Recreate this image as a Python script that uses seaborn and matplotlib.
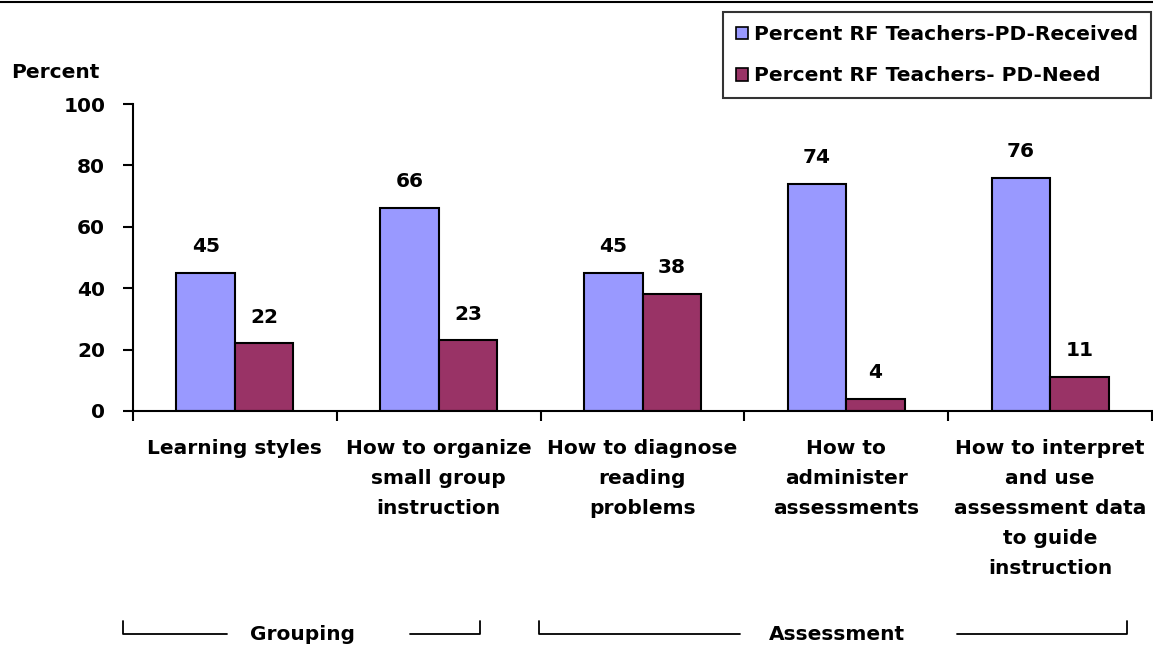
import pandas as pd
import matplotlib.pyplot as plt
import matplotlib.transforms as mtransforms
from matplotlib.patches import Patch
from matplotlib.lines import Line2D
import seaborn as sns

# data
topics = ["Learning styles",
          "How to organize\nsmall group\ninstruction",
          "How to diagnose\nreading\nproblems",
          "How to\nadminister\nassessments",
          "How to interpret\nand use\nassessment data\nto guide\ninstruction"]
received = [45, 66, 45, 74, 76]
need = [22, 23, 38, 4, 11]
series = ["Percent RF Teachers-PD-Received", "Percent RF Teachers- PD-Need"]
colors = ["#9999FF", "#993366"]
yticks = [0, 20, 40, 60, 80, 100]
groups = ["Grouping", "Assessment"]

df = pd.DataFrame({
    "Topic": topics * 2,
    "Percent": received + need,
    "Series": [series[0]] * len(topics) + [series[1]] * len(topics),
})

sns.set_style("white")
plt.rcParams['font.family'] = ['DejaVu Sans']
plt.rcParams['font.weight'] = 'bold'
plt.rcParams['text.color'] = 'black'
plt.rcParams['xtick.color'] = 'black'
plt.rcParams['ytick.color'] = 'black'
plt.rcParams['axes.labelcolor'] = 'black'
fs = 14.5

fig = plt.figure(figsize=(11.53, 6.49), dpi=100)
ax = fig.add_axes([133/1153, 238/649, 1019/1153, 307/649])

sns.barplot(data=df, x="Topic", y="Percent", hue="Series", palette=colors,
            width=0.574, edgecolor="black", linewidth=1.5, saturation=1,
            errorbar=None, legend=False, ax=ax)

# value labels
for cont in ax.containers:
    for bar in cont:
        h = bar.get_height()
        ax.annotate(f"{h:.0f}", (bar.get_x() + bar.get_width() / 2, h),
                    xytext=(0, 19), textcoords="offset points",
                    ha="center", va="center", fontsize=fs, fontweight="bold")

ax.set_xlim(-0.5, len(topics) - 0.5)
ax.set_ylim(0, 100)
ax.set_yticks(yticks)
ax.set_yticklabels([str(v) for v in yticks], fontsize=fs, fontweight="bold")
ax.tick_params(axis="y", direction="out", length=7, width=1.5, pad=13, left=True)

# boundary ticks as major, category names as minor
ax.set_xticks([i - 0.5 for i in range(len(topics) + 1)])
ax.set_xticklabels([])
ax.set_xticks(range(len(topics)), minor=True)
ax.set_xticklabels(topics, minor=True, fontsize=fs, fontweight="bold", linespacing=1.74)
ax.tick_params(axis="x", which="major", direction="out", length=7, width=1.5, bottom=True)
ax.tick_params(axis="x", which="minor", length=0, pad=20)
for t in ax.get_xticklabels(minor=True):
    t.set_verticalalignment("top")
    t.set_horizontalalignment("center")

ax.set_xlabel("")
ax.set_ylabel("")
sns.despine(ax=ax)
for s in ["left", "bottom"]:
    ax.spines[s].set_linewidth(1.5)
    ax.spines[s].set_color("black")

fig.text(55/1153, 1 - 72/649, "Percent", ha="center", va="center",
         fontsize=fs, fontweight="bold")

# legend
handles = [Patch(facecolor=c, edgecolor="black", linewidth=1.2) for c in colors]
leg = fig.legend(handles, series, loc="upper right",
                 bbox_to_anchor=(1151/1153, 1 - 12/649),
                 fontsize=fs, frameon=True, fancybox=False, edgecolor="black",
                 handlelength=0.6, handleheight=0.6, handletextpad=0.3,
                 labelspacing=1.1, borderpad=0.65, borderaxespad=0)
leg.get_frame().set_linewidth(1.5)
for t in leg.get_texts():
    t.set_fontweight("bold")

# top rule
fig.add_artist(Line2D([0, 1], [1 - 1.5/649, 1 - 1.5/649], color="black",
                      lw=1.5, transform=fig.transFigure))

# group brackets under the categories
tr = mtransforms.blended_transform_factory(ax.transData, fig.transFigure)
yb = 1 - 634/649
yt = 1 - 621/649
brackets = [(-0.549, -0.039, 0.333, 0.858, 1.201),
            (1.493, 2.480, 2.956, 3.544, 4.377)]
for name, (x0, x1, xm, x2, x3) in zip(groups, brackets):
    ax.add_line(Line2D([x0, x0, x1], [yt, yb, yb], color="black", lw=1.3,
                       transform=tr, clip_on=False))
    ax.add_line(Line2D([x2, x3, x3], [yb, yb, yt], color="black", lw=1.3,
                       transform=tr, clip_on=False))
    ax.text(xm, yb, name, transform=tr, ha="center", va="center",
            fontsize=fs, fontweight="bold")

fig.savefig("out.png", dpi=100)
